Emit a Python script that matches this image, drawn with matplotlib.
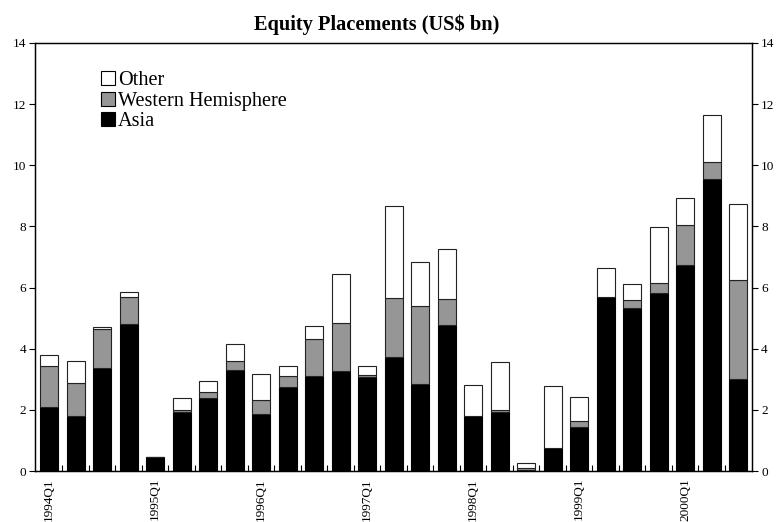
import matplotlib
matplotlib.use("Agg")
import matplotlib.pyplot as plt
import numpy as np
from matplotlib.patches import Patch

plt.rcParams['font.family'] = ['Liberation Serif', 'DejaVu Serif']

# quarters 1994Q1 .. 2000Q3
quarters = [f"{y}Q{q}" for y in range(1994, 2001) for q in range(1, 5)][:27]

asia_top = [2.10, 1.80, 3.36, 4.81, 0.46, 1.94, 2.39, 3.29, 1.86, 2.75, 3.11, 3.26, 3.06,
            3.72, 2.85, 4.77, 1.80, 1.94, 0.03, 0.74, 1.45, 5.68, 5.34, 5.83, 6.73, 9.55, 3.02]
wh_top = [3.43, 2.89, 4.65, 5.68, 0.46, 1.98, 2.57, 3.60, 2.31, 3.11, 4.31, 4.84, 3.13,
          5.65, 5.39, 5.62, 1.80, 2.00, 0.09, 0.74, 1.64, 5.68, 5.58, 6.14, 8.03, 10.10, 6.26]
other_top = [3.81, 3.59, 4.71, 5.86, 0.46, 2.38, 2.94, 4.17, 3.18, 3.44, 4.75, 6.43, 3.45,
             8.66, 6.82, 7.25, 2.81, 3.57, 0.27, 2.79, 2.43, 6.65, 6.11, 7.99, 8.93, 11.63, 8.72]

asia = np.array(asia_top)
west = np.array(wh_top) - asia
other = np.array(other_top) - np.array(wh_top)

gray = '#969696'
x = np.arange(len(quarters))
w = 0.68

fig = plt.figure(figsize=(7.77, 5.22), dpi=100)
ax = fig.add_axes([0.045, 0.0977, 0.923, 0.820])

ax.bar(x, asia, w, color='black', edgecolor='black', linewidth=0.8)
ax.bar(x, west, w, bottom=asia, color=gray, edgecolor='#222222', linewidth=0.8)
ax.bar(x, other, w, bottom=asia + west, color='white', edgecolor='#222222', linewidth=0.8)

ax.set_xlim(-0.53, 26.53)
ax.set_ylim(0, 14)
ax.set_yticks(np.arange(0, 15, 2))
ax.tick_params(axis='y', labelsize=9.5, length=4, width=0.8, direction='out', pad=2.5)

ax.set_xticks(x[::4])
ax.set_xticklabels(quarters[::4], rotation=90, fontsize=9.5)
ax.tick_params(axis='x', length=0, pad=5)
ax.set_xticks(x[:-1] + 0.5, minor=True)
ax.tick_params(axis='x', which='minor', length=4, direction='in', width=0.8)

ax2 = ax.twinx()
ax2.set_ylim(0, 14)
ax2.set_yticks(np.arange(0, 15, 2))
ax2.tick_params(axis='y', labelsize=9.5, length=4, width=0.8, direction='out', pad=2.5)

for a in (ax, ax2):
    for s in a.spines.values():
        s.set_linewidth(0.9)

fig.text(377 / 777, 1 - 30 / 522, "Equity Placements (US$ bn)", fontsize=14.7,
         fontweight='bold', ha='center', va='baseline')

handles = [Patch(facecolor='white', edgecolor='black', linewidth=0.8, label='Other'),
           Patch(facecolor=gray, edgecolor='black', linewidth=0.8, label='Western Hemisphere'),
           Patch(facecolor='black', edgecolor='black', linewidth=0.8, label='Asia')]
ax.legend(handles=handles, loc='upper left', bbox_to_anchor=(0.092, 0.935), frameon=False,
          fontsize=14.6, handlelength=0.69, handleheight=0.69, handletextpad=0.15,
          labelspacing=0.08, borderpad=0, borderaxespad=0)

fig.savefig("out.png", dpi=100)
